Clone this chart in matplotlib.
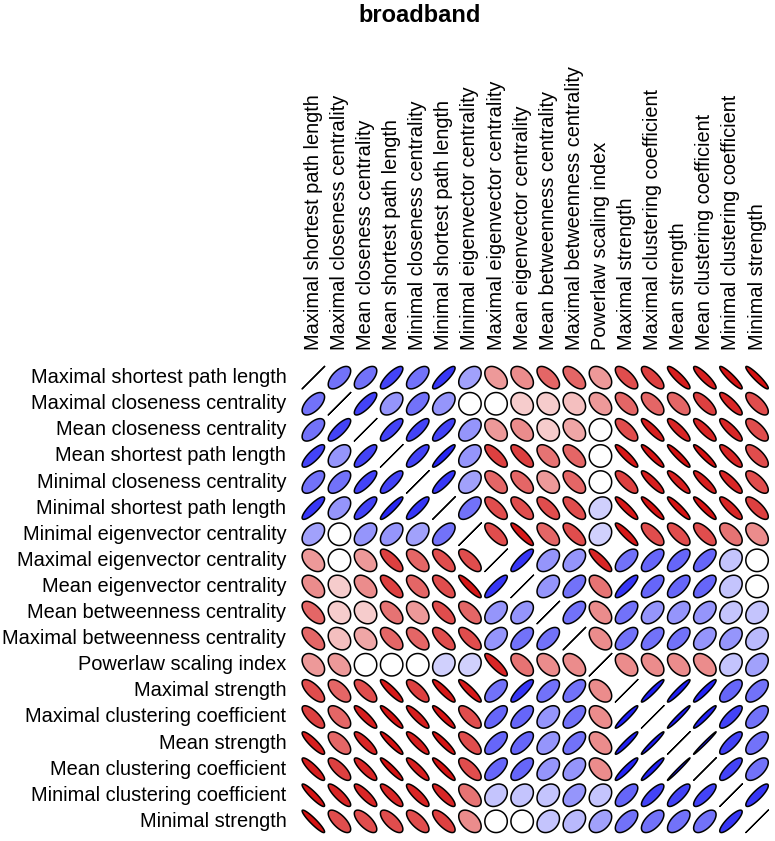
import numpy as np
import matplotlib
matplotlib.use("Agg")
import matplotlib.pyplot as plt
from matplotlib.patches import Polygon

plt.rcParams['font.family'] = ['Liberation Sans', 'DejaVu Sans']

labels = [
    "Maximal shortest path length", "Maximal closeness centrality",
    "Mean closeness centrality", "Mean shortest path length",
    "Minimal closeness centrality", "Minimal shortest path length",
    "Minimal eigenvector centrality", "Maximal eigenvector centrality",
    "Mean eigenvector centrality", "Mean betweenness centrality",
    "Maximal betweenness centrality", "Powerlaw scaling index",
    "Maximal strength", "Maximal clustering coefficient", "Mean strength",
    "Mean clustering coefficient", "Minimal clustering coefficient",
    "Minimal strength",
]

# upper-triangle correlations: row i, columns i+1 .. 17
up_00 = [0.6, 0.6, 0.8, 0.6, 0.85, 0.4, -0.4, -0.45, -0.6, -0.6, -0.4, -0.7, -0.75, -0.88, -0.88, -0.92, -0.93]
up_01 = [0.8, 0.45, 0.6, 0.45, 0.0, 0.0, -0.2, -0.2, -0.25, -0.4, -0.6, -0.6, -0.6, -0.75, -0.85, -0.7]
up_02 = [0.8, 0.8, 0.8, 0.45, -0.4, -0.45, -0.2, -0.35, 0.0, -0.7, -0.88, -0.85, -0.85, -0.85, -0.7]
up_03 = [0.8, 0.92, 0.45, -0.75, -0.75, -0.55, -0.6, 0.0, -0.9, -0.92, -0.93, -0.93, -0.85, -0.7]
up_04 = [0.85, 0.4, -0.6, -0.6, -0.4, -0.6, 0.0, -0.75, -0.88, -0.88, -0.88, -0.85, -0.7]
up_05 = [0.6, -0.7, -0.7, -0.7, -0.7, 0.2, -0.9, -0.92, -0.92, -0.92, -0.85, -0.75]
up_06 = [-0.7, -0.9, -0.6, -0.7, 0.2, -0.9, -0.7, -0.7, -0.7, -0.55, -0.45]
up_07 = [0.85, 0.45, 0.45, -0.85, 0.6, 0.65, 0.65, 0.65, 0.25, 0.0]
up_08 = [0.45, 0.6, -0.55, 0.85, 0.65, 0.65, 0.65, 0.25, 0.0]
up_09 = [0.6, -0.45, 0.6, 0.45, 0.45, 0.45, 0.25, 0.25]
up_10 = [-0.45, 0.6, 0.6, 0.6, 0.45, 0.45, 0.3]
up_11 = [-0.45, -0.45, -0.45, -0.45, 0.25, 0.4]
up_12 = [0.95, 0.95, 0.93, 0.65, 0.6]
up_13 = [0.97, 0.95, 0.8, 0.6]
up_14 = [0.99, 0.8, 0.6]
up_15 = [0.8, 0.6]
up_16 = [0.85]

uppers = [up_00, up_01, up_02, up_03, up_04, up_05, up_06, up_07, up_08,
          up_09, up_10, up_11, up_12, up_13, up_14, up_15, up_16]

n = len(labels)
corr = np.eye(n)
for i, row in enumerate(uppers):
    for k, v in enumerate(row):
        j = i + 1 + k
        corr[i, j] = v
        corr[j, i] = v

red_end = np.array([210, 0, 0]) / 255.0
blue_end = np.array([20, 20, 245]) / 255.0
white = np.array([1.0, 1.0, 1.0])


def color_for(r):
    if r >= 0:
        return white * (1 - r) + blue_end * r
    return white * (1 + r) + red_end * (-r)


fig = plt.figure(figsize=(7.75, 8.41), dpi=100)
W, H = 775.0, 841.0
x0, x1 = 300.3, 770.1
y0, y1 = 364.6, 834.4
ax = fig.add_axes([x0 / W, 1 - y1 / H, (x1 - x0) / W, (y1 - y0) / H])
ax.set_xlim(0.5, n + 0.5)
ax.set_ylim(0.5, n + 0.5)
ax.axis('off')

t = 0.43
a = np.linspace(0, 2 * np.pi, 120)
for i in range(n):
    for j in range(n):
        r = corr[i, j]
        d = np.arccos(np.clip(r, -1, 1))
        ex = t * np.cos(a + d / 2) + (j + 1)
        ey = t * np.cos(a - d / 2) + (n - i)
        if i == j:
            ax.plot(ex, ey, color='black', lw=0.9)
        else:
            poly = Polygon(np.column_stack([ex, ey]), closed=True,
                           facecolor=color_for(r), edgecolor='black', lw=1.1)
            ax.add_patch(poly)

cell = (x1 - x0) / n
for i, lab in enumerate(labels):
    ax.text(0.5 - 14.0 / cell, n - i, lab, ha='right', va='center', fontsize=14.4)
    ax.text(i + 1, n + 0.5 + 14.6 / cell, lab, ha='center', va='bottom',
            rotation=90, fontsize=14.4)

fig.text(420 / W, 1 - 15 / H, "broadband", ha='center', va='center',
         fontsize=17, fontweight='bold')

fig.savefig("out.png", dpi=100)
